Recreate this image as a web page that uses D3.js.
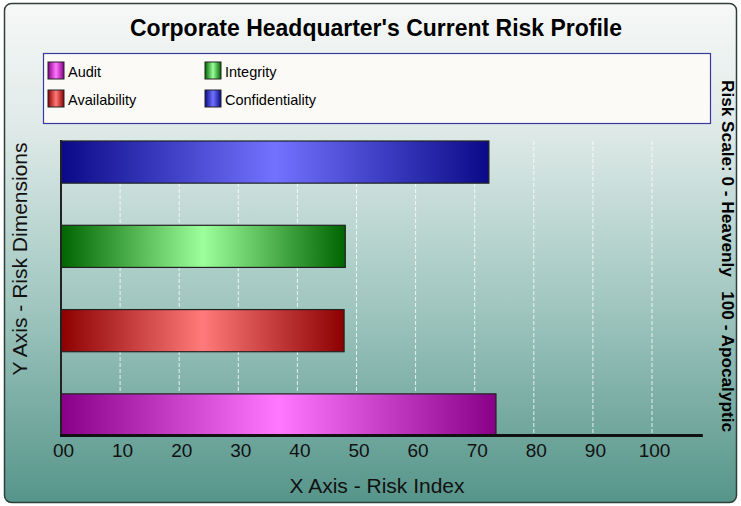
<!DOCTYPE html>
<html lang="en">
<head>
<meta charset="utf-8">
<title>Corporate Headquarter's Current Risk Profile</title>
<script src="https://cdn.jsdelivr.net/npm/d3@7"></script>
<style>
  body { margin: 0; background: #fff; }
  text { font-family: "Liberation Sans", Arial, sans-serif; }
</style>
</head>
<body>
<script>
// data
var categories = ["Confidentiality", "Integrity", "Availability", "Audit"];
var riskValues = [72.4, 48.1, 47.9, 73.6];
var xTicks = [0, 10, 20, 30, 40, 50, 60, 70, 80, 90, 100];
var legendOrder = ["Audit", "Availability", "Integrity", "Confidentiality"];

// dark / light colours for each bar gradient
var colours = {
  Audit:           ["#880088", "#ff78ff"],
  Availability:    ["#8c0000", "#ff7a7a"],
  Integrity:       ["#006400", "#9cff9c"],
  Confidentiality: ["#0a0a88", "#7272ff"]
};

var W = 741, H = 506;
var svg = d3.select("body").append("svg")
    .attr("width", W)
    .attr("height", H);

var defs = svg.append("defs");

// panel background
var bg = defs.append("linearGradient").attr("id", "bg")
    .attr("x1", 0).attr("y1", 0).attr("x2", 0).attr("y2", 1);
bg.append("stop").attr("offset", "0%").attr("stop-color", "#f6f8f7");
bg.append("stop").attr("offset", "25%").attr("stop-color", "#dfeae8");
bg.append("stop").attr("offset", "60%").attr("stop-color", "#a1c7c0");
bg.append("stop").attr("offset", "100%").attr("stop-color", "#56958a");

// bar gradients: dark -> light -> dark
categories.forEach(function(c) {
  var g = defs.append("linearGradient").attr("id", "g-" + c)
      .attr("x1", 0).attr("y1", 0).attr("x2", 1).attr("y2", 0);
  g.append("stop").attr("offset", "0%").attr("stop-color", colours[c][0]);
  g.append("stop").attr("offset", "50%").attr("stop-color", colours[c][1]);
  g.append("stop").attr("offset", "100%").attr("stop-color", colours[c][0]);
});

svg.append("rect")
    .attr("x", 4.5).attr("y", 3.5)
    .attr("width", 732).attr("height", 499)
    .attr("rx", 7)
    .attr("fill", "url(#bg)")
    .attr("stroke", "#2f3f3a")
    .attr("stroke-width", 1.5);

// title
svg.append("text")
    .attr("x", 376).attr("y", 36)
    .attr("text-anchor", "middle")
    .attr("font-size", "23px")
    .attr("font-weight", "bold")
    .attr("fill", "#000")
    .attr("textLength", 492)
    .attr("lengthAdjust", "spacingAndGlyphs")
    .text("Corporate Headquarter's Current Risk Profile");

// legend
svg.append("rect")
    .attr("x", 43.5).attr("y", 53.5)
    .attr("width", 667).attr("height", 70)
    .attr("fill", "#fbfaf6")
    .attr("stroke", "#3a3a9e")
    .attr("stroke-width", 1.2);

var legend = svg.selectAll(".legend")
    .data(legendOrder)
    .enter().append("g")
    .attr("class", "legend")
    .attr("transform", function(d, i) {
      return "translate(" + (48 + Math.floor(i / 2) * 157) + "," + (62 + (i % 2) * 28) + ")";
    });

legend.append("rect")
    .attr("width", 16).attr("height", 17)
    .attr("fill", function(d) { return "url(#g-" + d + ")"; })
    .attr("stroke", "#222")
    .attr("stroke-width", 1);

legend.append("text")
    .attr("x", 20).attr("y", 15)
    .attr("font-size", "14.5px")
    .attr("fill", "#000")
    .text(function(d) { return d; });

// scales
var x = d3.scaleLinear().domain([0, 100]).range([61, 652]);
var y = d3.scaleBand().domain(categories).range([141, 436]).paddingInner(0.5).paddingOuter(0);

// dashed grid lines
svg.selectAll(".grid")
    .data(xTicks.slice(1))
    .enter().append("line")
    .attr("x1", function(d) { return x(d); })
    .attr("x2", function(d) { return x(d); })
    .attr("y1", 141).attr("y2", 435)
    .attr("stroke", "#ffffff")
    .attr("stroke-opacity", 0.8)
    .attr("stroke-dasharray", "4,2")
    .attr("stroke-width", 1);

// bars
svg.selectAll(".bar")
    .data(categories)
    .enter().append("rect")
    .attr("x", x(0))
    .attr("y", function(d) { return y(d); })
    .attr("width", function(d, i) { return x(riskValues[i]) - x(0); })
    .attr("height", y.bandwidth())
    .attr("fill", function(d) { return "url(#g-" + d + ")"; })
    .attr("stroke", "#222")
    .attr("stroke-width", 1.2);

// axis lines
svg.append("line")
    .attr("x1", 61).attr("x2", 61)
    .attr("y1", 140).attr("y2", 436)
    .attr("stroke", "#222").attr("stroke-width", 2);

svg.append("line")
    .attr("x1", 60).attr("x2", x(108.6))
    .attr("y1", 435.5).attr("y2", 435.5)
    .attr("stroke", "#111").attr("stroke-width", 3);

// x axis labels
var xAxis = d3.axisBottom(x)
    .tickValues(xTicks)
    .tickSize(0)
    .tickFormat(function(d) { return d === 0 ? "00" : d; });

var ax = svg.append("g")
    .attr("transform", "translate(2,440)")
    .call(xAxis);
ax.select(".domain").remove();
ax.selectAll("text")
    .attr("font-family", "'Liberation Sans', Arial, sans-serif")
    .attr("font-size", "19px")
    .attr("fill", "#111");

// axis titles
svg.append("text")
    .attr("x", 377).attr("y", 493)
    .attr("text-anchor", "middle")
    .attr("font-size", "21px")
    .attr("fill", "#111")
    .text("X Axis - Risk Index");

svg.append("text")
    .attr("transform", "translate(27,259) rotate(-90)")
    .attr("text-anchor", "middle")
    .attr("font-size", "21px")
    .attr("fill", "#111")
    .text("Y Axis - Risk Dimensions");

svg.append("text")
    .attr("transform", "translate(722,256) rotate(90)")
    .attr("text-anchor", "middle")
    .attr("font-size", "17px")
    .attr("font-weight", "bold")
    .attr("fill", "#000")
    .attr("textLength", 352)
    .attr("lengthAdjust", "spacingAndGlyphs")
    .style("white-space", "pre")
    .text("Risk Scale: 0 - Heavenly   100 - Apocalyptic");
</script>
</body>
</html>
